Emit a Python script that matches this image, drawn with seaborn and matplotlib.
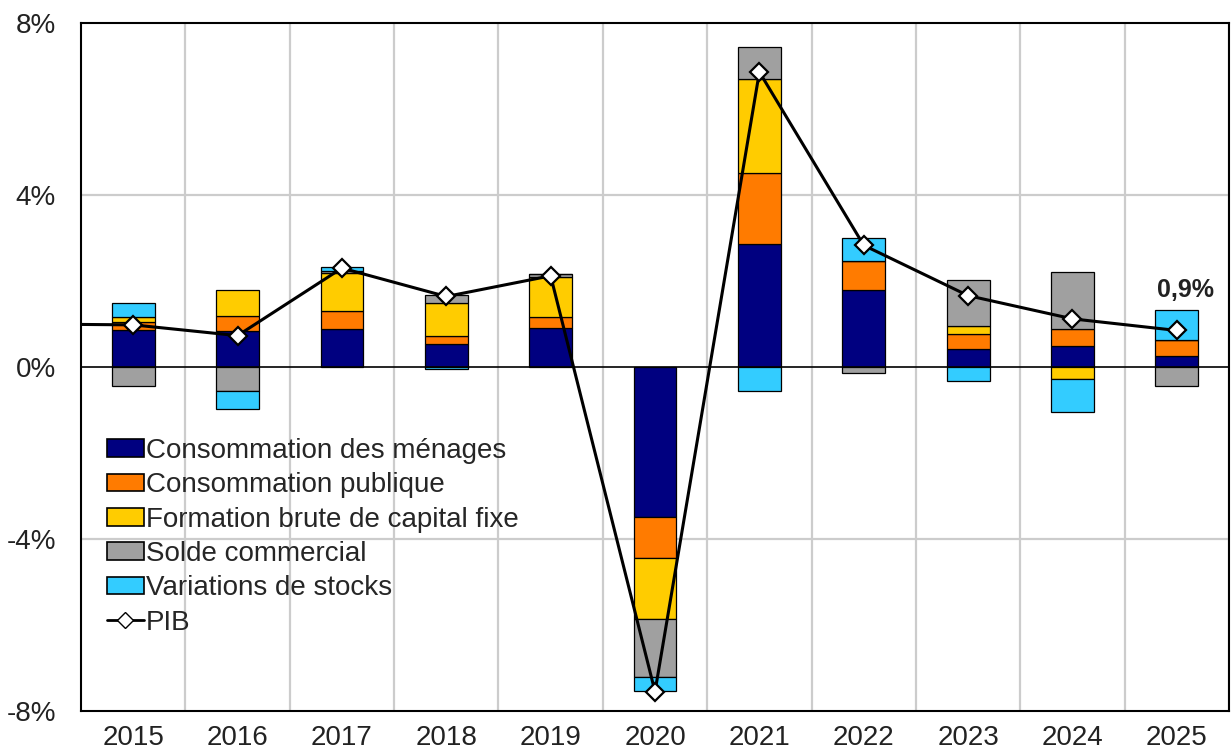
import seaborn as sns
import pandas as pd
import numpy as np
import matplotlib.pyplot as plt
from matplotlib.patches import Patch
from matplotlib.lines import Line2D

# contributions a la croissance du PIB (points de %)
years = [str(y) for y in range(2015, 2026)]
menages = [0.85, 0.83, 0.88, 0.54, 0.91, -3.48, 2.86, 1.78, 0.43, 0.50, 0.25]
publique = [0.20, 0.35, 0.43, 0.18, 0.25, -0.97, 1.65, 0.68, 0.34, 0.38, 0.37]
fbcf = [0.12, 0.60, 0.87, 0.76, 0.93, -1.42, 2.19, 0.00, 0.18, -0.27, 0.00]
solde = [-0.43, -0.55, 0.05, 0.19, 0.08, -1.35, 0.75, -0.15, 1.07, 1.34, -0.45]
stocks = [0.31, -0.42, 0.10, -0.05, 0.00, -0.31, -0.56, 0.53, -0.33, -0.77, 0.70]

# PIB, 2014 inclus pour le segment qui entre par la gauche
pib_years = ["2014"] + years
pib = [1.00, 0.98, 0.73, 2.30, 1.64, 2.12, -7.55, 6.86, 2.83, 1.66, 1.12, 0.85]

labels = ["Consommation des ménages", "Consommation publique",
          "Formation brute de capital fixe", "Solde commercial",
          "Variations de stocks"]
colors = ["#000080", "#FF7B00", "#FFCC00", "#A0A0A0", "#33CCFF"]

sns.set_style("white")
plt.rcParams["font.family"] = ["Liberation Sans", "DejaVu Sans"]

fig = plt.figure(figsize=(12.31, 7.49), dpi=100)
ax = fig.add_axes([0.0658, 0.0507, 0.9326, 0.9186])

x = np.arange(len(years))
pos = np.zeros(len(years))
neg = np.zeros(len(years))
for vals, col in zip([menages, publique, fbcf, solde, stocks], colors):
    v = np.array(vals)
    base = np.where(v >= 0, pos, neg)
    ax.bar(x, v, bottom=base, width=0.41, color=col, edgecolor="black",
           linewidth=0.9, zorder=3)
    pos = pos + np.where(v > 0, v, 0)
    neg = neg + np.where(v < 0, v, 0)

df = pd.DataFrame({"x": np.arange(-1, len(years)), "pib": pib})
sns.lineplot(data=df, x="x", y="pib", ax=ax, color="black", linewidth=2.2,
             marker="D", markersize=9, markerfacecolor="white",
             markeredgecolor="black", markeredgewidth=1.6, zorder=5)

ax.text(10.08, 1.79, "0,9%", ha="center", va="center", fontsize=18,
        fontweight="bold", color="#222222", zorder=6)

ax.axhline(0, color="black", linewidth=1.2, zorder=4)
for b in np.arange(-0.5, len(years), 1.0)[1:]:
    ax.axvline(b, color="#CCCCCC", linewidth=1.6, zorder=1)
for h in [-4, 4]:
    ax.axhline(h, color="#CCCCCC", linewidth=1.6, zorder=1)

ax.set_xlim(-0.5, len(years) - 0.5)
ax.set_ylim(-8, 8)
ax.set_xticks(x)
ax.set_xticklabels(years)
ax.set_yticks([-8, -4, 0, 4, 8])
ax.set_yticklabels(["-8%", "-4%", "0%", "4%", "8%"])
ax.tick_params(axis="both", length=0, labelsize=20, colors="#222222")
ax.tick_params(axis="y", pad=18)
ax.tick_params(axis="x", pad=10)
ax.set_xlabel("")
ax.set_ylabel("")
for s in ax.spines.values():
    s.set_color("black")
    s.set_linewidth(1.5)

handles = [Patch(facecolor=c, edgecolor="black", linewidth=1.2) for c in colors]
handles.append(Line2D([0], [0], color="black", linewidth=2, marker="D",
                      markersize=8, markerfacecolor="white",
                      markeredgecolor="black"))
ax.legend(handles, labels + ["PIB"], loc="upper left",
          bbox_to_anchor=(0.023, 0.397), frameon=False, fontsize=20,
          handlelength=1.3, handleheight=0.6, handletextpad=0.08,
          labelspacing=0.3, borderpad=0, borderaxespad=0)

fig.savefig("out.png", dpi=100)
